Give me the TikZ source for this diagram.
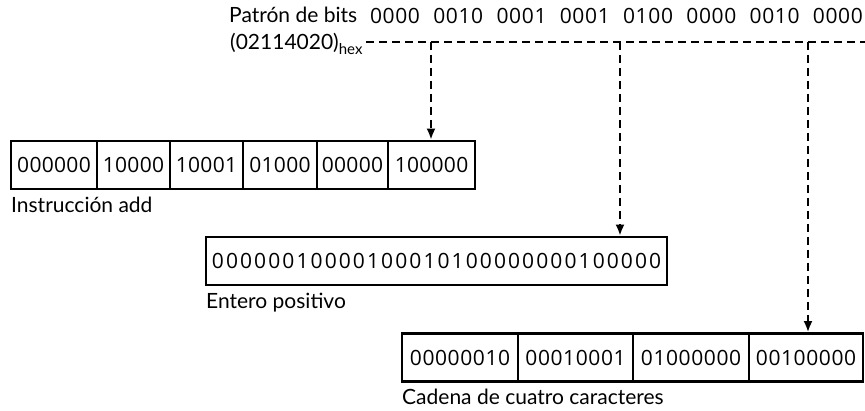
\documentclass[tikz,border=0pt]{standalone}
\usepackage{fontspec}
\setmainfont{Lato}
\newfontfamily\bitfont{Open Sans}
\usetikzlibrary{arrows.meta}
\makeatletter
\newcommand\bitseq[2]{\@tfor\bitch:=#2\do{\makebox[#1][c]{\bitch}}}
\makeatother
\newcommand\grp[1]{\bitseq{12.65pt}{#1}\makebox[12.65pt]{}}
\begin{document}
\begin{tikzpicture}[x=1pt,y=-1pt,
  cell/.style={draw,line width=2.8pt,minimum height=48pt,inner sep=0pt,font=\bitfont\fontsize{21}{21}\selectfont},
  lbl/.style={anchor=base west,inner sep=0pt,font=\fontsize{21}{25}\selectfont},
  dashln/.style={line width=2pt,dash pattern=on 8pt off 5pt},
  arr/.style={dashln,-{Latex[length=11pt,width=9pt]}}]
\useasboundingbox (0,0) rectangle (865,411);
% top labels
\node[lbl] (pt) at (229,23) {Patrón de bits};
\node[lbl] (hx) at (230,50) {(02114020)\raisebox{-5pt}{\fontsize{15}{15}\selectfont hex}};
\node[anchor=base west,inner sep=0pt,font=\bitfont\fontsize{21}{21}\selectfont] (bits) at (369.5,23.5)
  {\grp{0000}\grp{0010}\grp{0001}\grp{0001}\grp{0100}\grp{0000}\grp{0010}\grp{0000}};
% box 1
\node[cell,minimum width=86pt] (c11) at (54,165) {\bitseq{12.3pt}{000000}};
\node[cell,minimum width=73pt] (c12) at (133.5,165) {\bitseq{12.3pt}{10000}};
\node[cell,minimum width=73pt] (c13) at (206.5,165) {\bitseq{12.3pt}{10001}};
\node[cell,minimum width=74pt] (c14) at (280,165) {\bitseq{12.3pt}{01000}};
\node[cell,minimum width=71pt] (c15) at (352.5,165) {\bitseq{12.3pt}{00000}};
\node[cell,minimum width=87pt] (c16) at (431.5,165) {\bitseq{12.3pt}{100000}};
\node[lbl] (l1) at (11,213) {Instrucción add};
% box 2
\node[cell,minimum width=461pt] (b2) at (436.5,261) {\bitseq{14.1pt}{00000010000100010100000000100000}};
\node[lbl] (l2) at (206,309) {Entero positivo};
% box 3
\node[cell,minimum width=116pt] (c31) at (460,357.5) {\bitseq{12.6pt}{00000010}};
\node[cell,minimum width=115pt] (c32) at (575.5,357.5) {\bitseq{12.6pt}{00010001}};
\node[cell,minimum width=116pt] (c33) at (691,357.5) {\bitseq{12.6pt}{01000000}};
\node[cell,minimum width=114pt] (c34) at (806,357.5) {\bitseq{12.6pt}{00100000}};
\node[lbl] (l3) at (402,405) {Cadena de cuatro caracteres};
% connectors
\coordinate (hs) at (366,42);
\coordinate (he) at (872,42);
\draw[dashln] (hs) -- (he);
\coordinate (v1) at (431,42);
\coordinate (v2) at (620,42);
\coordinate (v3) at (808,42);
\draw[arr] (v1) -- (v1 |- c16.north);
\draw[arr] (v2) -- (v2 |- b2.north);
\draw[arr] (v3) -- (v3 |- c34.north);
\end{tikzpicture}
\end{document}
